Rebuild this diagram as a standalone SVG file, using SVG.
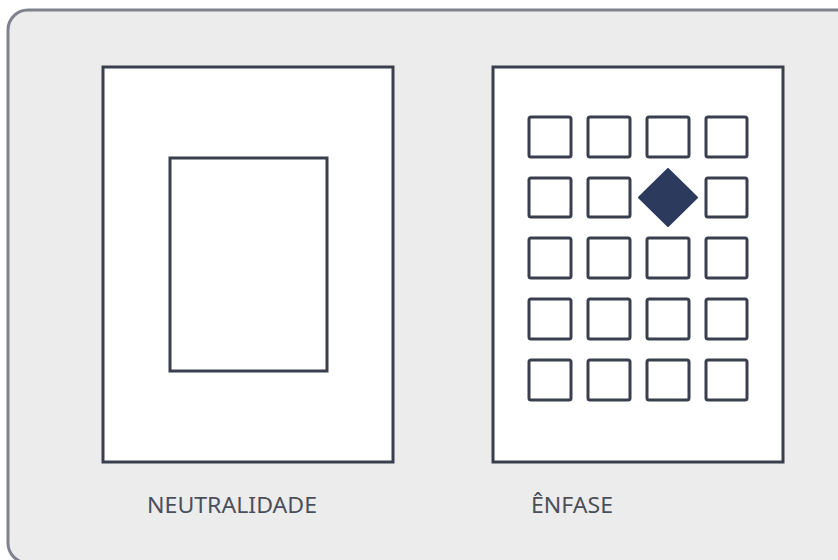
<svg xmlns="http://www.w3.org/2000/svg" width="838" height="560" viewBox="0 0 838 560">
<style>
.frame{fill:#ececec;stroke:#7f818c;stroke-width:3}
.panel{fill:#ffffff;stroke:#3a3f4d;stroke-width:3}
.sq{fill:#ffffff;stroke:#3a3f4d;stroke-width:3}
.lbl{font-family:"Noto Sans","Open Sans","DejaVu Sans",sans-serif;font-size:21px;fill:#4a4f5a}
</style>
<rect x="0" y="0" width="838" height="560" fill="#ffffff"/>
<rect class="frame" x="8" y="10" width="850" height="553" rx="20" ry="20"/>
<g id="neutralidade">
<rect class="panel" x="103" y="67" width="290" height="395"/>
<rect class="panel" x="170" y="158" width="157" height="213"/>
<text class="lbl" x="147" y="513" textLength="170" lengthAdjust="spacingAndGlyphs">NEUTRALIDADE</text>
</g>
<g id="enfase">
<rect class="panel" x="493" y="67" width="290" height="395"/>
<g id="grid">
<rect class="sq" x="529" y="117" width="42" height="40" rx="2"/>
<rect class="sq" x="588" y="117" width="42" height="40" rx="2"/>
<rect class="sq" x="647" y="117" width="42" height="40" rx="2"/>
<rect class="sq" x="706" y="117" width="41" height="40" rx="2"/>
<rect class="sq" x="529" y="178" width="42" height="39" rx="2"/>
<rect class="sq" x="588" y="178" width="42" height="39" rx="2"/>
<rect class="sq" x="706" y="178" width="41" height="39" rx="2"/>
<rect class="sq" x="529" y="238" width="42" height="40" rx="2"/>
<rect class="sq" x="588" y="238" width="42" height="40" rx="2"/>
<rect class="sq" x="647" y="238" width="42" height="40" rx="2"/>
<rect class="sq" x="706" y="238" width="41" height="40" rx="2"/>
<rect class="sq" x="529" y="299" width="42" height="40" rx="2"/>
<rect class="sq" x="588" y="299" width="42" height="40" rx="2"/>
<rect class="sq" x="647" y="299" width="42" height="40" rx="2"/>
<rect class="sq" x="706" y="299" width="41" height="40" rx="2"/>
<rect class="sq" x="529" y="360" width="42" height="40" rx="2"/>
<rect class="sq" x="588" y="360" width="42" height="40" rx="2"/>
<rect class="sq" x="647" y="360" width="42" height="40" rx="2"/>
<rect class="sq" x="706" y="360" width="41" height="40" rx="2"/>
</g>
<path id="diamond" d="M668 169 L697 197.5 L668 226 L639 197.5 Z" fill="#2c3a5e" stroke="#2c3a5e" stroke-width="2" stroke-linejoin="round"/>
<text class="lbl" x="531" y="513" textLength="82" lengthAdjust="spacingAndGlyphs">ÊNFASE</text>
</g>
</svg>
